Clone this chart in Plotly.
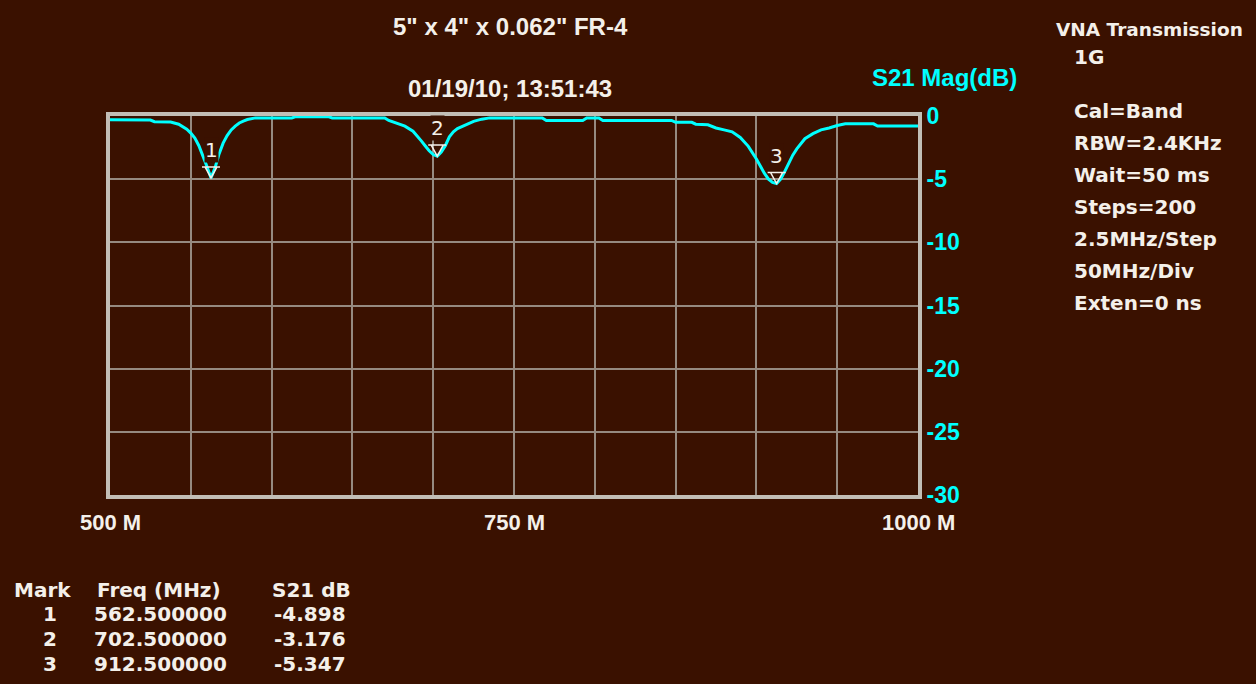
import plotly.graph_objects as go

# S21 transmission sweep, 500 MHz - 1000 MHz
freq_mhz = [500, 510, 520, 525, 527.5, 537.5, 542.5, 545, 547.5, 550, 552.5, 555,
            557.5, 560, 562.5, 565, 567.5, 570, 572.5, 575, 577.5, 580, 582.5, 585,
            590, 612.5, 615, 635, 637.5, 670, 672.5, 677.5, 682.5, 687.5, 690, 692.5,
            695, 697.5, 700, 702.5, 705, 707.5, 710, 712.5, 715, 720, 725, 730, 735,
            767.5, 770, 792.5, 795, 802.5, 805, 847.5, 850, 860, 862.5, 870, 875,
            880, 885, 890, 895, 900, 902.5, 905, 907.5, 910, 912.5, 915, 917.5, 920,
            922.5, 925, 927.5, 930, 935, 940, 945, 950, 955, 972.5, 975, 1000]
s21_db = [-0.30, -0.30, -0.30, -0.32, -0.45, -0.48, -0.65, -0.85, -1.05, -1.35, -1.75, -2.35,
          -3.10, -4.00, -4.898, -4.10, -3.00, -2.15, -1.55, -1.10, -0.80, -0.55, -0.40, -0.28,
          -0.15, -0.15, -0.05, -0.05, -0.15, -0.15, -0.35, -0.55, -0.80, -1.20, -1.55, -1.95,
          -2.35, -2.75, -3.05, -3.176, -2.85, -2.35, -1.65, -1.25, -1.00, -0.70, -0.42, -0.25, -0.15,
          -0.15, -0.35, -0.35, -0.15, -0.15, -0.35, -0.35, -0.50, -0.50, -0.65, -0.70, -0.95,
          -1.10, -1.25, -1.70, -2.40, -3.40, -4.00, -4.55, -5.00, -5.25, -5.347, -5.00, -4.40, -3.70,
          -3.10, -2.60, -2.15, -1.80, -1.40, -1.10, -0.95, -0.75, -0.62, -0.62, -0.80, -0.80]

# markers
marker_ids = [1, 2, 3]
marker_freq = [562.5, 702.5, 912.5]
marker_db = [-4.898, -3.176, -5.347]

# axes
x_grid = list(range(500, 1001, 50))
x_labels = {500: "500 M", 750: "750 M", 1000: "1000 M"}
y_ticks = [0, -5, -10, -15, -20, -25, -30]
y_ticktext = [str(v) for v in y_ticks]

title_text = '5" x 4" x 0.062" FR-4'
stamp_text = "01/19/10; 13:51:43"
trace_name = "S21 Mag(dB)"
info_lines = ["VNA Transmission", "1G", "", "Cal=Band", "RBW=2.4KHz", "Wait=50 ms",
              "Steps=200", "2.5MHz/Step", "50MHz/Div", "Exten=0 ns"]

BG = "#3a1100"
CYAN = "#00ffff"
WHITE = "#f4f0ea"
FRAME = "#c2beb6"
GRID = "#968a80"
BITMAP = "DejaVu Sans"
SANS = "Liberation Sans"

W, H = 1256, 684
PL, PR, PT, PB = 110, 918, 116, 495


def paper(x, y):
    """Page pixel position -> paper coordinates of the plot area."""
    return (x - PL) / (PR - PL), (PB - y) / (PB - PT)


fig = go.Figure()
fig.add_trace(go.Scatter(x=freq_mhz, y=s21_db, mode="lines",
                         line=dict(color=CYAN, width=3), hoverinfo="skip",
                         showlegend=False))

annotations = []
shapes = []

# marker triangles and numbers
for mid, f, d in zip(marker_ids, marker_freq, marker_db):
    shapes.append(dict(type="path", xref="x", yref="y", xsizemode="pixel", ysizemode="pixel",
                       xanchor=f, yanchor=d, path="M -9,11 L 9,11 M -6,11 L 0,0 L 6,11",
                       line=dict(color=WHITE, width=1.5)))
    annotations.append(dict(x=f, y=d, xref="x", yref="y", text=str(mid), showarrow=False,
                            yshift=28, bgcolor=BG, borderpad=0,
                            font=dict(family=BITMAP, size=20, color=WHITE)))

# header texts
for txt, x, y, color in [(title_text, 510, 27, WHITE),
                         (stamp_text, 510, 88, WHITE),
                         (trace_name, 944, 77, CYAN)]:
    px, py = paper(x, y)
    annotations.append(dict(x=px, y=py, xref="paper", yref="paper", text=txt, showarrow=False,
                            xanchor="center", yanchor="middle",
                            font=dict(family=SANS, size=24, color=color, weight="bold")))

# x axis end labels
for f in x_grid:
    if f in x_labels:
        annotations.append(dict(x=f, y=paper(0, 522)[1], xref="x", yref="paper",
                                text=x_labels[f], showarrow=False, xanchor="center",
                                yanchor="middle",
                                font=dict(family=SANS, size=22, color=WHITE, weight="bold")))

# instrument settings panel
for i, line in enumerate(info_lines):
    if not line:
        continue
    x = 1054 if i == 0 else 1072
    y = 30 + i * 27 if i < 2 else 111 + (i - 3) * 32
    px, py = paper(x, y)
    annotations.append(dict(x=px, y=py, xref="paper", yref="paper", text=line, showarrow=False,
                            xanchor="left", yanchor="middle",
                            font=dict(family=BITMAP, size=18.5 if i == 0 else 20,
                                      color=WHITE, weight="bold")))

# marker table
table_font = dict(family=BITMAP, size=20, color=WHITE, weight="bold")
for txt, x, anchor in [("Mark", 12, "left"), ("Freq (MHz)", 95, "left"), ("S21 dB", 270, "left")]:
    px, py = paper(x, 590)
    annotations.append(dict(x=px, y=py, xref="paper", yref="paper", text=txt, showarrow=False,
                            xanchor=anchor, yanchor="middle", font=table_font))
for r, (mid, f, d) in enumerate(zip(marker_ids, marker_freq, marker_db)):
    y = 614 + r * 25
    for txt, x in [(str(mid), 59), (f"{f:.6f}", 229), (f"{d:.3f}", 348)]:
        px, py = paper(x, y)
        annotations.append(dict(x=px, y=py, xref="paper", yref="paper", text=txt,
                                showarrow=False, xanchor="right", yanchor="middle",
                                font=table_font))

fig.update_layout(
    width=W, height=H,
    margin=dict(l=PL, r=W - PR, t=PT, b=H - PB, pad=0),
    paper_bgcolor=BG, plot_bgcolor=BG,
    annotations=annotations, shapes=shapes,
    xaxis=dict(range=[500, 1000], tickvals=x_grid, showticklabels=False, ticks="",
               showgrid=True, gridcolor=GRID, gridwidth=2, zeroline=False,
               showline=True, linecolor=FRAME, linewidth=4, mirror=True,
               layer="below traces", fixedrange=True),
    yaxis=dict(range=[-30, 0], tickvals=y_ticks, ticktext=y_ticktext, side="right", ticks="",
               tickfont=dict(family=SANS, size=23, color=CYAN, weight="bold"),
               ticklabelstandoff=0,
               showgrid=True, gridcolor=GRID, gridwidth=2, zeroline=False,
               showline=True, linecolor=FRAME, linewidth=4, mirror=True,
               layer="below traces", fixedrange=True),
)

fig.write_html("out.html", config={"displayModeBar": False})
